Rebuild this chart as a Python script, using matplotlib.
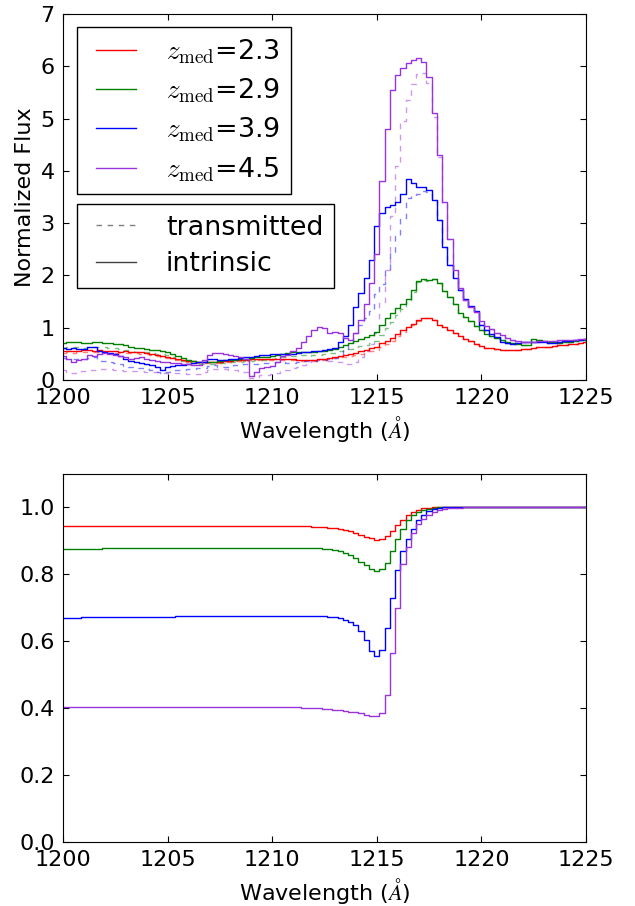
import numpy as np
import matplotlib
matplotlib.use('Agg')
import matplotlib.pyplot as plt
from matplotlib.lines import Line2D
from matplotlib.legend_handler import HandlerLine2D

# wavelength grid (Angstrom), 0.25 A bins
wave = np.arange(1200.0, 1225.001, 0.25)

# intrinsic (normalized) composite spectra, one row per Angstrom
flux_23 = [0.55, 0.56, 0.55, 0.56, 0.57, 0.57, 0.56, 0.57, 0.56, 0.55, 0.55, 0.54,
           0.55, 0.54, 0.54, 0.53, 0.52, 0.50, 0.48, 0.46, 0.44, 0.42, 0.40, 0.38,
           0.37, 0.36, 0.35, 0.35, 0.34, 0.34, 0.35, 0.36, 0.37, 0.38, 0.38, 0.39,
           0.40, 0.40, 0.41, 0.41, 0.41, 0.41, 0.40, 0.40, 0.40, 0.39, 0.39, 0.39,
           0.39, 0.40, 0.41, 0.42, 0.44, 0.46, 0.48, 0.50, 0.52, 0.55, 0.58, 0.61,
           0.64, 0.70, 0.75, 0.80, 0.88, 0.95, 1.01, 1.07, 1.14, 1.19, 1.18, 1.14,
           1.06, 1.01, 0.96, 0.90, 0.84, 0.78, 0.74, 0.69, 0.65, 0.62, 0.61, 0.59,
           0.58, 0.57, 0.57, 0.58, 0.59, 0.60, 0.62, 0.63, 0.64, 0.64, 0.65, 0.66,
           0.67, 0.68, 0.69, 0.71, 0.73]
flux_29 = [0.70, 0.72, 0.73, 0.72, 0.70, 0.71, 0.72, 0.72, 0.71, 0.70, 0.69, 0.68,
           0.66, 0.64, 0.62, 0.61, 0.60, 0.58, 0.57, 0.56, 0.54, 0.50, 0.46, 0.42,
           0.39, 0.37, 0.35, 0.34, 0.34, 0.35, 0.37, 0.38, 0.38, 0.39, 0.40, 0.41,
           0.42, 0.43, 0.44, 0.44, 0.45, 0.48, 0.50, 0.51, 0.53, 0.54, 0.54, 0.53,
           0.54, 0.55, 0.56, 0.58, 0.60, 0.63, 0.67, 0.70, 0.74, 0.78, 0.82, 0.86,
           0.92, 1.05, 1.18, 1.28, 1.38, 1.45, 1.55, 1.72, 1.90, 1.93, 1.91, 1.94,
           1.86, 1.70, 1.58, 1.45, 1.28, 1.21, 1.12, 1.04, 0.95, 0.88, 0.84, 0.80,
           0.76, 0.73, 0.70, 0.68, 0.67, 0.67, 0.78, 0.76, 0.74, 0.73, 0.72, 0.71,
           0.72, 0.73, 0.74, 0.76, 0.77]
flux_39 = [0.62, 0.60, 0.61, 0.60, 0.59, 0.63, 0.64, 0.55, 0.53, 0.51, 0.49, 0.46,
           0.40, 0.37, 0.35, 0.33, 0.30, 0.28, 0.24, 0.19, 0.24, 0.26, 0.28, 0.29,
           0.31, 0.32, 0.34, 0.35, 0.40, 0.41, 0.38, 0.38, 0.40, 0.41, 0.42, 0.44,
           0.44, 0.46, 0.47, 0.48, 0.49, 0.50, 0.50, 0.49, 0.49, 0.51, 0.53, 0.54,
           0.55, 0.56, 0.57, 0.59, 0.62, 0.72, 0.85, 1.05, 1.40, 1.66, 1.95, 2.30,
           2.95, 3.20, 3.30, 3.35, 3.40, 3.55, 3.85, 3.76, 3.69, 3.69, 3.63, 3.45,
           3.06, 2.55, 2.20, 1.95, 1.72, 1.55, 1.42, 1.32, 1.05, 0.95, 0.88, 0.82,
           0.72, 0.70, 0.69, 0.70, 0.72, 0.73, 0.73, 0.72, 0.72, 0.71, 0.70, 0.72,
           0.75, 0.74, 0.76, 0.77, 0.78]
flux_45 = [0.45, 0.40, 0.35, 0.38, 0.41, 0.48, 0.46, 0.50, 0.51, 0.50, 0.47, 0.45,
           0.43, 0.41, 0.42, 0.43, 0.40, 0.38, 0.37, 0.35, 0.34, 0.33, 0.32, 0.31,
           0.30, 0.29, 0.28, 0.38, 0.48, 0.51, 0.52, 0.50, 0.48, 0.46, 0.43, 0.40,
           0.08, 0.15, 0.22, 0.25, 0.26, 0.35, 0.45, 0.48, 0.55, 0.62, 0.72, 0.85,
           0.96, 1.02, 1.00, 0.90, 0.92, 0.89, 0.80, 0.76, 0.90, 1.15, 1.45, 1.85,
           2.40, 3.80, 4.80, 5.55, 5.84, 5.96, 6.06, 6.12, 6.15, 6.09, 5.80, 5.10,
           4.30, 3.40, 2.70, 2.10, 1.75, 1.53, 1.40, 1.30, 1.12, 1.04, 0.97, 0.90,
           0.86, 0.80, 0.76, 0.74, 0.73, 0.73, 0.73, 0.74, 0.74, 0.74, 0.75, 0.76,
           0.76, 0.77, 0.77, 0.78, 0.78]

# mean IGM transmission F on the same grid
trans_23 = [0.944, 0.944, 0.944, 0.944, 0.944, 0.944, 0.944, 0.944, 0.944, 0.944, 0.944, 0.944,
            0.944, 0.944, 0.944, 0.944, 0.944, 0.944, 0.944, 0.944, 0.944, 0.944, 0.944, 0.944,
            0.944, 0.944, 0.944, 0.944, 0.944, 0.944, 0.944, 0.944, 0.944, 0.944, 0.944, 0.944,
            0.944, 0.944, 0.944, 0.944, 0.944, 0.944, 0.944, 0.944, 0.944, 0.944, 0.944, 0.944,
            0.943, 0.942, 0.941, 0.940, 0.939, 0.937, 0.934, 0.930, 0.925, 0.919, 0.913, 0.908,
            0.904, 0.906, 0.915, 0.930, 0.947, 0.963, 0.977, 0.987, 0.993, 0.997, 0.999, 1.000,
            1.000, 1.000, 1.000, 1.000, 1.000, 1.000, 1.000, 1.000, 1.000, 1.000, 1.000, 1.000,
            1.000, 1.000, 1.000, 1.000, 1.000, 1.000, 1.000, 1.000, 1.000, 1.000, 1.000, 1.000,
            1.000, 1.000, 1.000, 1.000, 1.000]
trans_29 = [0.877, 0.877, 0.877, 0.877, 0.877, 0.877, 0.877, 0.877, 0.878, 0.878, 0.878, 0.878,
            0.878, 0.878, 0.878, 0.878, 0.878, 0.878, 0.878, 0.878, 0.879, 0.879, 0.879, 0.879,
            0.879, 0.879, 0.879, 0.879, 0.879, 0.879, 0.879, 0.879, 0.880, 0.880, 0.880, 0.880,
            0.880, 0.880, 0.880, 0.880, 0.880, 0.880, 0.880, 0.880, 0.880, 0.880, 0.880, 0.880,
            0.879, 0.878, 0.877, 0.875, 0.873, 0.869, 0.864, 0.857, 0.848, 0.838, 0.827, 0.817,
            0.811, 0.815, 0.835, 0.870, 0.905, 0.937, 0.962, 0.977, 0.986, 0.992, 0.996, 0.998,
            1.000, 1.000, 1.000, 1.000, 1.000, 1.000, 1.000, 1.000, 1.000, 1.000, 1.000, 1.000,
            1.000, 1.000, 1.000, 1.000, 1.000, 1.000, 1.000, 1.000, 1.000, 1.000, 1.000, 1.000,
            1.000, 1.000, 1.000, 1.000, 1.000]
trans_39 = [0.671, 0.671, 0.671, 0.671, 0.672, 0.672, 0.672, 0.672, 0.672, 0.672, 0.673, 0.673,
            0.673, 0.673, 0.673, 0.673, 0.674, 0.674, 0.674, 0.674, 0.674, 0.674, 0.675, 0.675,
            0.675, 0.675, 0.675, 0.675, 0.676, 0.676, 0.676, 0.676, 0.676, 0.676, 0.676, 0.676,
            0.677, 0.677, 0.677, 0.677, 0.677, 0.677, 0.677, 0.677, 0.677, 0.677, 0.677, 0.677,
            0.676, 0.676, 0.675, 0.674, 0.672, 0.669, 0.664, 0.657, 0.648, 0.630, 0.603, 0.570,
            0.556, 0.575, 0.640, 0.730, 0.812, 0.870, 0.905, 0.937, 0.962, 0.978, 0.989, 0.995,
            0.998, 1.000, 1.000, 1.000, 1.000, 1.000, 1.000, 1.000, 1.000, 1.000, 1.000, 1.000,
            1.000, 1.000, 1.000, 1.000, 1.000, 1.000, 1.000, 1.000, 1.000, 1.000, 1.000, 1.000,
            1.000, 1.000, 1.000, 1.000, 1.000]
trans_45 = [0.404, 0.404, 0.404, 0.404, 0.404, 0.404, 0.404, 0.404, 0.404, 0.404, 0.404, 0.404,
            0.404, 0.404, 0.404, 0.404, 0.405, 0.405, 0.405, 0.405, 0.405, 0.405, 0.405, 0.405,
            0.405, 0.405, 0.405, 0.405, 0.405, 0.405, 0.405, 0.405, 0.405, 0.405, 0.405, 0.405,
            0.405, 0.405, 0.405, 0.405, 0.404, 0.404, 0.404, 0.404, 0.403, 0.403, 0.402, 0.402,
            0.401, 0.400, 0.399, 0.398, 0.396, 0.394, 0.392, 0.390, 0.388, 0.385, 0.381, 0.377,
            0.378, 0.386, 0.440, 0.565, 0.700, 0.830, 0.882, 0.925, 0.950, 0.965, 0.978, 0.987,
            0.992, 0.995, 0.997, 0.998, 0.999, 1.000, 1.000, 1.000, 1.000, 1.000, 1.000, 1.000,
            1.000, 1.000, 1.000, 1.000, 1.000, 1.000, 1.000, 1.000, 1.000, 1.000, 1.000, 1.000,
            1.000, 1.000, 1.000, 1.000, 1.000]

z_med = ['2.3', '2.9', '3.9', '4.5']
colors = ['r', 'g', 'b', '#9933dd']
fluxes = [flux_23, flux_29, flux_39, flux_45]
trans = [trans_23, trans_29, trans_39, trans_45]

plt.rcParams['font.size'] = 16
plt.rcParams['mathtext.fontset'] = 'cm'
plt.rcParams['mathtext.rm'] = 'serif'
plt.rcParams['xtick.direction'] = 'in'
plt.rcParams['ytick.direction'] = 'in'
plt.rcParams['xtick.top'] = True
plt.rcParams['ytick.right'] = True
plt.rcParams['xtick.major.size'] = 4.5
plt.rcParams['ytick.major.size'] = 4.5
plt.rcParams['xtick.major.pad'] = 6
plt.rcParams['ytick.major.pad'] = 6

fig = plt.figure(figsize=(6.35, 9.06), dpi=100)
ax1 = fig.add_axes([0.0992, 0.5806, 0.8236, 0.4040])
ax2 = fig.add_axes([0.0992, 0.0706, 0.8236, 0.4062])

for f, t, c in zip(fluxes, trans, colors):
    f = np.array(f)
    t = np.array(t)
    ax1.plot(wave, f * t, color=c, ls='--', dashes=(4, 4), lw=1.0, alpha=0.5, drawstyle='steps-mid')
for f, c, z in zip(fluxes, colors, z_med):
    ax1.plot(wave, f, color=c, lw=1.0, drawstyle='steps-mid', label=r'$z_{\rm med}$=' + z)

ax1.set_xlim(1200, 1225)
ax1.set_ylim(0, 7)
ax1.set_xlabel(r'Wavelength ($\AA$)')
ax1.set_ylabel('Normalized Flux')

legkw = dict(loc='upper left', borderaxespad=0, fancybox=False, fontsize=19.4,
             handlelength=1.78, handletextpad=1.12, labelspacing=0.39,
             edgecolor='k', framealpha=1,
             handler_map={Line2D: HandlerLine2D(xpad=0.3)})
leg1 = ax1.legend(bbox_to_anchor=(0.0268, 0.9645), **legkw)
leg1.get_frame().set_linewidth(1.0)
ax1.add_artist(leg1)
h2 = [Line2D([], [], color='k', ls='--', dashes=(4, 4), alpha=0.5, lw=1.0),
      Line2D([], [], color='k', alpha=0.75, lw=1.0)]
leg2 = ax1.legend(h2, ['transmitted', 'intrinsic'], bbox_to_anchor=(0.0268, 0.481), **legkw)
leg2.get_frame().set_linewidth(1.0)

for t, c in zip(trans, colors):
    ax2.plot(wave, t, color=c, lw=1.0, drawstyle='steps-mid')
ax2.set_xlim(1200, 1225)
ax2.set_ylim(0, 1.1)
ax2.set_yticks([0.0, 0.2, 0.4, 0.6, 0.8, 1.0])
ax2.set_xlabel(r'Wavelength ($\AA$)')
ax2.set_ylabel('F', labelpad=14)

fig.savefig('out.png', dpi=100)
